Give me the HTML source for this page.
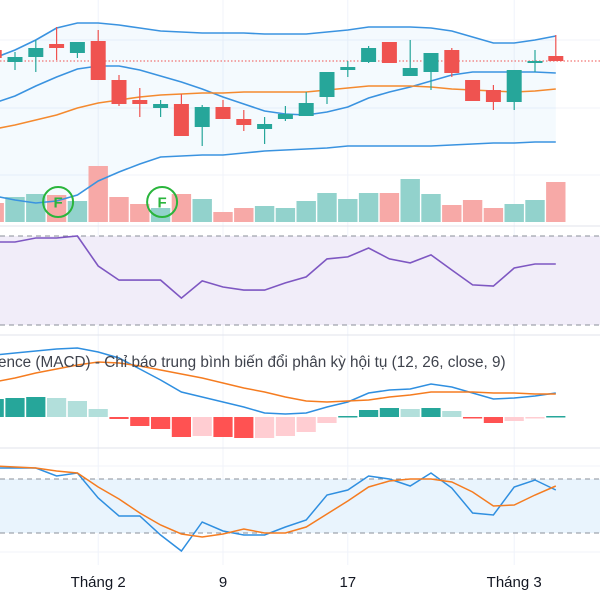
<!DOCTYPE html>
<html><head><meta charset="utf-8"><style>
html,body{margin:0;padding:0;background:#fff;}
svg{display:block;font-family:"Liberation Sans","Noto Sans CJK SC",sans-serif;}
</style></head><body>
<svg id="chart" width="600" height="600" viewBox="0 0 600 600" xmlns="http://www.w3.org/2000/svg">
<g id="grid"></g>
<g id="main"></g>
<g id="rsi"></g>
<g id="macd"></g>
<g id="stoch"></g>
<g id="axis"></g>
</svg>
<script>
// ---- data (index -1 .. 26) ----
const opens  = [200,188,193,206,197,209,170,150,142,146,123,143,131,121,131,134,153,180,188,208,174,178,200,170,160,148,187,194];
const highs  = [202,198,210,223,208,220,175,162,150,156,145,150,140,133,144,158,178,189,204,208,210,197,202,170,165,180,200,215];
const lows   = [190,180,178,190,192,170,144,133,133,114,104,131,119,106,129,134,146,173,187,187,174,160,173,149,140,140,178,189];
const closes = [192,193,202,202,208,170,146,146,146,114,143,131,125,126,136,147,178,183,202,187,182,197,177,149,148,180,189,189];
const bbUpper = [192,200,210,222,227,227,225,222,219,218,217,217,217,216,216,216,218,220,223,223,223,222,219,213,207,207,210,214];
const bbMid   = [147,154,164,173,181,184,184,180,174,168,161,153,146,139,136,135,138,143,152,158,163,169,175,178,178,178,178,177];
const bbLower = [54,50,47,49,55,69,78,86,93,94,95,95,97,99,100,101,102,104,104,104,104,104,105,106,107,107,108,108];
const maLine  = [121,125,130,135,142,147,150,153,155,156,157,157,158,158,158,158,160,162,164,164,164,163,161,160,159,158,159,161];
const volumes = [19,25,28,27,21,56,25,18,14,28,23,10,14,16,14,21,29,23,29,29,43,28,17,22,14,18,22,40];
const rsiVals = [67.3,67.3,69.1,69.1,70,56.5,50.2,50.2,50.2,42.1,49.8,47.1,45.7,45.7,48.9,51.6,59.7,60.6,64.6,59.7,57.9,61.5,54.7,48.0,47.5,55.6,57.4,57.4];
const macdLine = [6.2,6.4,6.6,6.8,6.9,6.5,5.9,4.8,3.7,2.5,2.0,1.5,1.0,0.4,0.3,0.4,1.0,1.5,2.4,2.7,2.8,3.3,3.0,2.4,1.8,1.9,2.1,2.4];
const signalLine = [3.5,3.9,4.4,4.8,5.2,5.5,5.4,5.1,4.7,4.3,3.9,3.4,2.9,2.5,2.0,1.6,1.5,1.6,1.7,2.0,2.2,2.5,2.5,2.5,2.4,2.4,2.3,2.3];
const histVals = [1.8,1.9,2.0,1.9,1.6,0.8,-0.2,-0.9,-1.2,-2.0,-1.9,-2.0,-2.1,-2.1,-1.9,-1.5,-0.6,0.1,0.7,0.9,0.8,0.9,0.6,-0.1,-0.6,-0.4,-0.1,0.1];
const stochK = [92.2,92.2,92.2,83.3,86.7,58.9,38.9,38.9,17.8,0,32.2,22.2,17.8,17.8,26.7,34.4,62.2,67.8,83.3,80,72.2,86.7,70,42.2,40,71.1,78.9,67.8];
const stochD = [94.4,93.3,92.2,88.9,86.7,71.1,57.8,42.2,28.9,18.9,15.6,18.9,24.4,20,20,26.7,41.1,55.6,71.1,77.8,80,80,76.7,65.6,50,51.1,62.2,72.2];
const tickLabels = ["Tháng 2","9","17","Tháng 3"];
const tickIndex = [5,11,17,25];
const signalMarks = [3,8];

const NS="http://www.w3.org/2000/svg";
function mk(parent,tag,attrs){const e=document.createElementNS(NS,tag);for(const k in attrs)e.setAttribute(k,attrs[k]);parent.appendChild(e);return e;}
const xS = i => 15 + 20.8*(i-1);
const pY = p => 250 - p;
const vY = v => 222 - v;
const rY = v => 236 + (70 - v)*89/40;
const mY = v => 417 - v*10;
const sY = v => 479 + (80 - v)*0.9;
const N = closes.length;

const grid=document.getElementById('grid');
[40,108,175].forEach(y=>{const l=mk(grid,'line',{x1:0,x2:600,y1:y,y2:y,stroke:'#f0f3fa'});
});
tickIndex.forEach(i=>{const l=mk(grid,'line',{x1:xS(i),x2:xS(i),y1:0,y2:565,stroke:'#f0f3fa'});
});
[226,335,448].forEach(y=>{const l=mk(grid,'line',{x1:0,x2:600,y1:y,y2:y,stroke:'#e0e3eb'});
});

function path(arr,fx,fy){return arr.map((v,i)=>(i?'L':'M')+fx(i).toFixed(1)+' '+fy(v).toFixed(1)).join(' ');}

const main=document.getElementById('main');
let band='M'+bbUpper.map((v,i)=>xS(i)+' '+pY(v)).join(' L')+' L'+bbLower.map((v,i)=>xS(i)+' '+pY(v)).reverse().join(' L')+' Z';
const bf=mk(main,'path',{d:band,fill:'rgba(33,150,243,0.05)'});

volumes.forEach((v,i)=>{const up=closes[i]>=opens[i];
const r=mk(main,'rect',{x:xS(i)-9.7,y:vY(v),width:19.4,height:v,fill:up?'#92d2cc':'#f7a9a7'});
});
[[bbUpper,'#3a93e0','bollinger-upper'],[bbMid,'#3a93e0','bollinger-basis'],[bbLower,'#3a93e0','bollinger-lower'],[maLine,'#f48a2f','moving-average']].forEach(([a,c,n])=>{
const p=mk(main,'path',{d:path(a,xS,pY),fill:'none',stroke:c,'stroke-width':1.6});
});
const lp=mk(main,'line',{x1:0,x2:600,y1:pY(closes[N-1]),y2:pY(closes[N-1]),stroke:'#ef5350','stroke-dasharray':'1.5 2','stroke-width':1});

closes.forEach((c,i)=>{const o=opens[i];const up=c>=o;const col=up?'#26a69a':'#ef5350';
const g=mk(main,'g',{});

mk(g,'line',{x1:xS(i),x2:xS(i),y1:pY(highs[i]),y2:pY(lows[i]),stroke:col,'stroke-width':1.2});
const top=pY(Math.max(o,c)),bot=pY(Math.min(o,c));
mk(g,'rect',{x:xS(i)-7.5,y:top,width:15,height:Math.max(bot-top,1.5),fill:col});});
signalMarks.forEach(i=>{const g=mk(main,'g',{});

const cx=xS(i)+1.5;mk(g,'circle',{cx:cx,cy:202,r:15,fill:'none',stroke:'#2ab53c','stroke-width':2});
const t=mk(g,'text',{x:cx,y:207.5,'text-anchor':'middle','font-size':15,'font-weight':'bold',fill:'#2ab53c'});t.textContent='F';});

const rsi=document.getElementById('rsi');
const rf=mk(rsi,'rect',{x:0,y:rY(70),width:600,height:rY(30)-rY(70),fill:'#f1edf9'});

[70,30].forEach(v=>{const l=mk(rsi,'line',{x1:0,x2:600,y1:rY(v),y2:rY(v),stroke:'#8a8f99','stroke-dasharray':'5 4'});
});
const rl=mk(rsi,'path',{d:path(rsiVals,xS,rY),fill:'none',stroke:'#7e57c2','stroke-width':1.6});


const macd=document.getElementById('macd');
histVals.forEach((v,i)=>{const prev=i?histVals[i-1]:v;let col;
if(v>=0)col=v>=prev?'#26a69a':'#b2dfdb';else col=v<prev?'#ff5252':'#ffcdd2';
const y=Math.min(mY(v),mY(0)),h=Math.max(Math.abs(v*10),1.5);
const r=mk(macd,'rect',{x:xS(i)-9.6,y:y,width:19.2,height:h,fill:col});
});
const ml=mk(macd,'path',{d:path(macdLine,xS,mY),fill:'none',stroke:'#2f8fe0','stroke-width':1.5});

const sl=mk(macd,'path',{d:path(signalLine,xS,mY),fill:'none',stroke:'#f57c20','stroke-width':1.5});

const mt=mk(macd,'text',{x:-2,y:367,'font-size':15.3,fill:'#3f434d'});

mt.textContent='ence (MACD) - Chỉ báo trung bình biến đổi phân kỳ hội tụ (12, 26, close, 9)';

const st=document.getElementById('stoch');
[466,552].forEach(y=>{const l=mk(st,'line',{x1:0,x2:600,y1:y,y2:y,stroke:'#f0f3fa'});
});
const sf=mk(st,'rect',{x:0,y:sY(80),width:600,height:sY(20)-sY(80),fill:'#e9f4fd'});

[80,20].forEach(v=>{const l=mk(st,'line',{x1:0,x2:600,y1:sY(v),y2:sY(v),stroke:'#8a8f99','stroke-dasharray':'5 4'});
});
const kl=mk(st,'path',{d:path(stochK,xS,sY),fill:'none',stroke:'#2f8fe0','stroke-width':1.5});

const dl=mk(st,'path',{d:path(stochD,xS,sY),fill:'none',stroke:'#f57c20','stroke-width':1.5});


const ax=document.getElementById('axis');
tickLabels.forEach((t,k)=>{const e=mk(ax,'text',{x:xS(tickIndex[k]),y:587,'text-anchor':'middle','font-size':15,fill:'#131722'});
e.textContent=t;});
</script>
</body></html>
